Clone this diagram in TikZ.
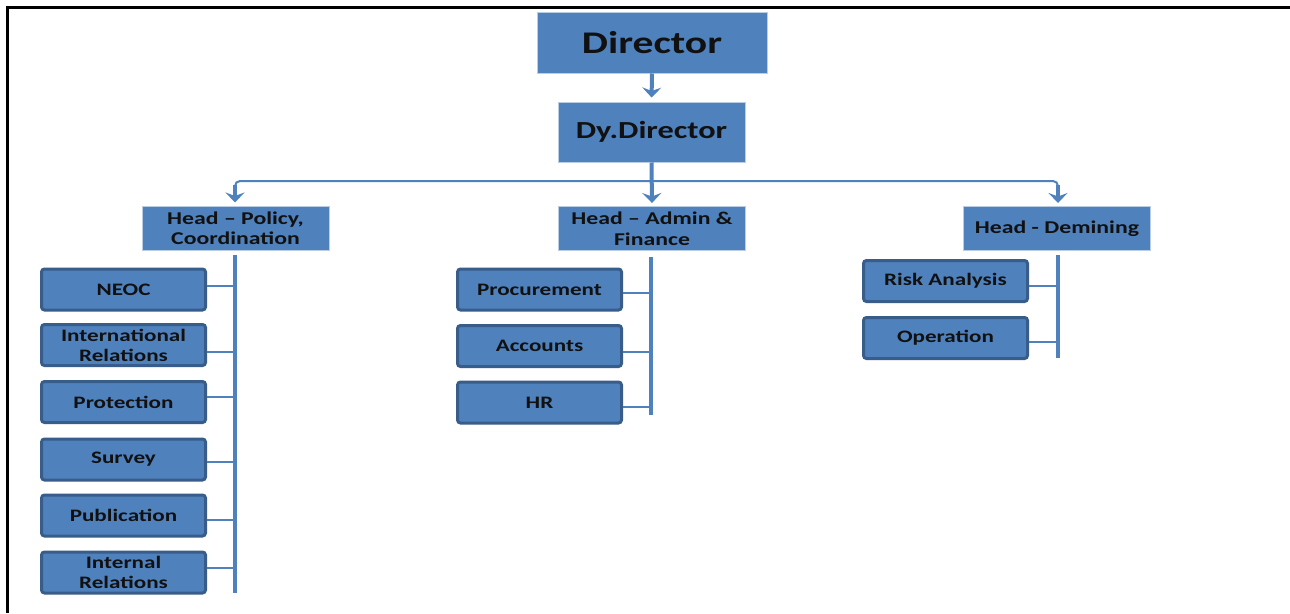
\documentclass[tikz,border=0pt]{standalone}
\usepackage{fontspec}
\newfontfamily\bx[FakeStretch=1.32]{Carlito}
\usetikzlibrary{arrows.meta}
\definecolor{boxblue}{HTML}{4F81BD}
\definecolor{boxedge}{HTML}{385D8A}
\definecolor{headedge}{HTML}{B9CDE5}
\definecolor{txt}{HTML}{111111}
\tikzset{
  topbox/.style={fill=boxblue, draw=headedge, line width=1pt, text=txt, align=center, inner sep=0pt},
  headbox/.style={topbox, minimum width=187, minimum height=44, font=\bx\bfseries\fontsize{18}{20.5}\selectfont},
  childbox/.style={fill=boxblue, draw=boxedge, line width=3pt, rounded corners=3pt, text=txt, align=center, inner sep=0pt,
    minimum width=164, minimum height=41, font=\bx\bfseries\fontsize{17.5}{20}\selectfont},
  bus/.style={draw=boxblue, line width=4pt},
  stub/.style={draw=boxblue, line width=2.5pt},
  hline/.style={draw=boxblue, line width=2pt},
  arr/.style={draw=boxblue, line width=4pt, -{Stealth[length=10pt,width=19pt,inset=3.5pt]}},
}
\begin{document}
\begin{tikzpicture}[x=1pt,y=-1pt]
\useasboundingbox (0,0) rectangle (1290,613);
\fill[white] (0,0) rectangle (1290,613);
% frame
\draw[line width=3pt] (7.5,613) -- (7.5,7.5) -- (1290,7.5);

% top
\node[topbox, minimum width=230, minimum height=61, font=\bx\bfseries\fontsize{31.5}{34}\selectfont] (dir) at (652,42.5) {Director};
\node[topbox, minimum width=187, minimum height=60, font=\bx\bfseries\fontsize{24.5}{28}\selectfont] (dy) at (651.5,132) {Dy.Director};

% heads
\node[headbox] (hp) at (235.5,228) {Head – Policy,\\Coordination};
\node[headbox] (ha) at (652,228.5) {Head – Admin \&\\Finance};
\node[headbox] (hd) at (1057,228.5) {Head - Demining};

% arrows
\draw[arr, shorten >=4pt] (dir.south) -- (dy.north);
\coordinate (jl) at (235,181);
\coordinate (jr) at (1058,181);
\draw[hline, rounded corners=5pt] ([yshift=-8pt]jl) -- (jl) -- (jr) -- ([yshift=-8pt]jr);
\draw[arr, shorten >=3pt] (dy.south) -- (ha.north);
\draw[arr, shorten >=3pt] ([yshift=-4pt]jl) -- (jl |- hp.north);
\draw[arr, shorten >=3pt] ([yshift=-4pt]jr) -- (jr |- hd.north);

% left column
\node[childbox] (neoc) at (123.5,289.5) {NEOC};
\node[childbox] (ir) at (123.5,345) {International\\Relations};
\node[childbox] (prot) at (123.5,402) {Protection};
\node[childbox] (surv) at (123.5,459.5) {Survey};
\node[childbox] (pub) at (123.5,515.5) {Publication};
\node[childbox] (intr) at (123.5,572.5) {Internal\\Relations};
\coordinate (pbs) at (235,255);
\coordinate (pbe) at (235,593);
\draw[bus] (pbs) -- (pbe);
\draw[stub] ([yshift=3.5pt]neoc.east) -- ++(28,0);
\draw[stub] ([yshift=-7pt]ir.east) -- ++(28,0);
\draw[stub] ([yshift=5pt]prot.east) -- ++(28,0);
\draw[stub] ([yshift=-2.5pt]surv.east) -- ++(28,0);
\draw[stub] ([yshift=-4.5pt]pub.east) -- ++(28,0);
\draw[stub] ([yshift=4.5pt]intr.east) -- ++(28,0);

% middle column
\node[childbox] (proc) at (539.5,289.5) {Procurement};
\node[childbox] (acc) at (539.5,346) {Accounts};
\node[childbox] (hr) at (539.5,402.5) {HR};
\coordinate (mbs) at (651,257);
\coordinate (mbe) at (651,415);
\draw[bus] (mbs) -- (mbe);
\draw[stub] ([yshift=-3.5pt]proc.east) -- ++(28,0);
\draw[stub] ([yshift=-6pt]acc.east) -- ++(28,0);
\draw[stub] ([yshift=-4.5pt]hr.east) -- ++(28,0);

% right column
\node[childbox] (risk) at (945.5,281) {Risk Analysis};
\node[childbox] (op) at (945.5,338) {Operation};
\coordinate (rbs) at (1058,255);
\coordinate (rbe) at (1058,358);
\draw[bus] (rbs) -- (rbe);
\draw[stub] ([yshift=-5pt]risk.east) -- ++(29,0);
\draw[stub] ([yshift=-4pt]op.east) -- ++(29,0);
\end{tikzpicture}
\end{document}
